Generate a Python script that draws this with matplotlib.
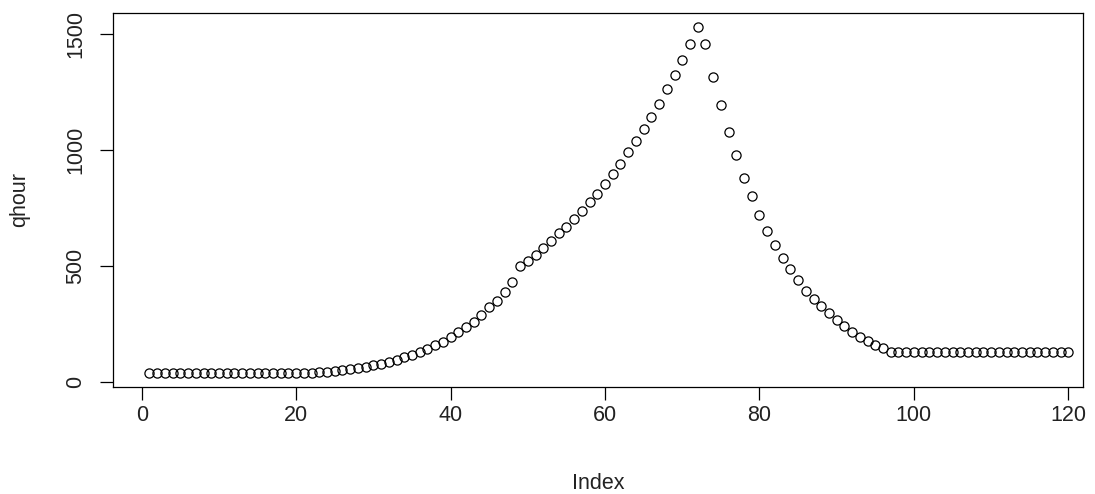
import matplotlib
matplotlib.use("Agg")
import matplotlib.pyplot as plt
import numpy as np

plt.rcParams['font.family'] = ['Liberation Sans', 'DejaVu Sans']

qhour = [39]*22 + [
    40, 42, 47, 52, 56, 60, 65, 70, 78, 86,
    95, 105, 117, 129, 143, 157, 170, 191, 215, 234,
    259, 289, 321, 349, 388, 431, 499, 522, 545, 578,
    608, 640, 668, 700, 736, 775, 809, 853, 896, 940,
    988, 1037, 1089, 1142, 1197, 1260, 1321, 1387, 1456, 1530,
    1456, 1315, 1191, 1075, 977, 879, 799, 718, 651, 589,
    535, 486, 437, 392, 356, 328, 295, 265, 240, 216,
    194, 176, 160, 147, 130] + [128]*23
index = list(range(1, len(qhour) + 1))

x_ticks = [0, 20, 40, 60, 80, 100, 120]
y_ticks = [0, 500, 1000, 1500]

fig = plt.figure(figsize=(10.95, 4.94), dpi=100)
ax = fig.add_axes([112.7/1095, 1 - 386.7/494, (1083 - 112.7)/1095, (386.7 - 12.7)/494])

ax.plot(index, qhour, linestyle='none', marker='o', markersize=6.6,
        markerfacecolor='none', markeredgecolor='black', markeredgewidth=0.9)

ax.set_xlim(-3.76, 121.9)
ax.set_ylim(-21.6, 1590)
ax.set_xticks(x_ticks)
ax.set_yticks(y_ticks)
ax.set_yticklabels([str(v) for v in y_ticks], rotation=90, va='center')

for s in ax.spines.values():
    s.set_linewidth(0.9)
    s.set_color('black')

ax.tick_params(axis='both', direction='out', length=9.2, width=0.9,
               labelsize=15.5, colors='black', labelcolor='#222222')
ax.tick_params(axis='x', pad=4)
ax.tick_params(axis='y', pad=10)

ax.set_xlabel('Index', fontsize=15.5, labelpad=34, color='#222222')
ax.set_ylabel('qhour', fontsize=15.5, labelpad=25, color='#222222')

fig.savefig('out.png', dpi=100)
